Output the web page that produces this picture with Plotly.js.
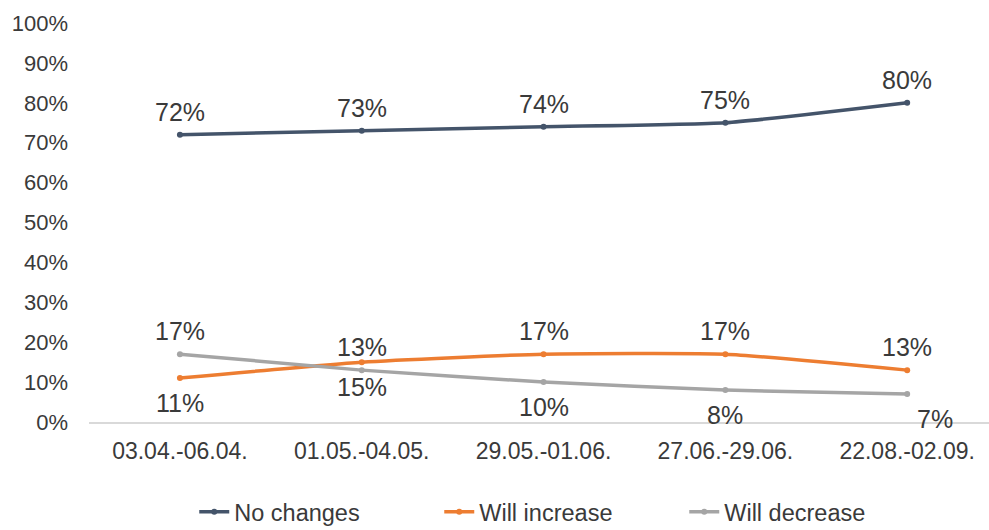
<!DOCTYPE html>
<html>
<head>
<meta charset="utf-8">
<script src="https://cdn.plot.ly/plotly-3.0.1.min.js"></script>
<style>
html,body{margin:0;padding:0;background:#fff;}
#chart{width:989px;height:530px;}
</style>
</head>
<body>
<div id="chart"></div>
<script>
const periods = ["03.04.-06.04.", "01.05.-04.05.", "29.05.-01.06.", "27.06.-29.06.", "22.08.-02.09."];
const noChanges = [72, 73, 74, 75, 80];
const willIncrease = [11, 15, 17, 17, 13];
const willDecrease = [17, 13, 10, 8, 7];
// label placement: 1 = above the point, -1 = below the point
const noChangesPos = [1, 1, 1, 1, 1];
const increasePos = [-1, -1, 1, 1, 1];
const decreasePos = [1, 1, -1, -1, -1];
const decreaseShiftX = [0, 0, 0, 0, 28];

const fontFam = "Liberation Sans, Arial, sans-serif";
const textCol = "#3a3a3a";

function mk(name, vals, color) {
  return {
    type: "scatter",
    mode: "lines+markers",
    name: name,
    x: periods,
    y: vals.map(v => v / 100),
    line: {color: color, width: 3.5, shape: "spline", smoothing: 0.5},
    marker: {color: color, size: 6},
    cliponaxis: false,
    hoverinfo: "skip"
  };
}

function labels(vals, pos, shiftX) {
  return vals.map((v, i) => ({
    x: periods[i], y: v / 100, xref: "x", yref: "y",
    text: v + "%", showarrow: false,
    xanchor: "center", yanchor: "middle",
    yshift: pos[i] > 0 ? 23 : -25,
    xshift: shiftX ? shiftX[i] : 0,
    font: {family: fontFam, size: 25, color: textCol}
  }));
}

const data = [
  mk("No changes", noChanges, "#44546A"),
  mk("Will increase", willIncrease, "#ED7D31"),
  mk("Will decrease", willDecrease, "#A5A5A5")
];

const layout = {
  width: 989, height: 530,
  margin: {l: 89, r: 0, t: 23, b: 108},
  paper_bgcolor: "#fff", plot_bgcolor: "#fff",
  font: {family: fontFam, color: textCol},
  showlegend: true,
  legend: {
    orientation: "h", xref: "container", yref: "container",
    x: 0.568, xanchor: "center", y: 0.034, yanchor: "middle",
    font: {family: fontFam, size: 23.5, color: textCol},
    itemwidth: 30, entrywidth: 200, traceorder: "normal"
  },
  annotations: [].concat(
    labels(noChanges, noChangesPos),
    labels(willIncrease, increasePos),
    labels(willDecrease, decreasePos, decreaseShiftX)
  ),
  xaxis: {
    type: "category",
    range: [-0.5, 4.45],
    showgrid: false, zeroline: false,
    showline: true, linecolor: "#d9d9d9", linewidth: 1.5,
    ticks: "", tickfont: {family: fontFam, size: 23, color: textCol},
    ticklabelstandoff: 8
  },
  yaxis: {
    range: [0, 1], tickformat: ".0%", dtick: 0.1,
    showgrid: false, zeroline: false, showline: false,
    ticks: "", tickfont: {family: fontFam, size: 22, color: textCol},
    ticklabelstandoff: 20
  }
};

Plotly.newPlot("chart", data, layout, {displayModeBar: false, staticPlot: true});
</script>
</body>
</html>
